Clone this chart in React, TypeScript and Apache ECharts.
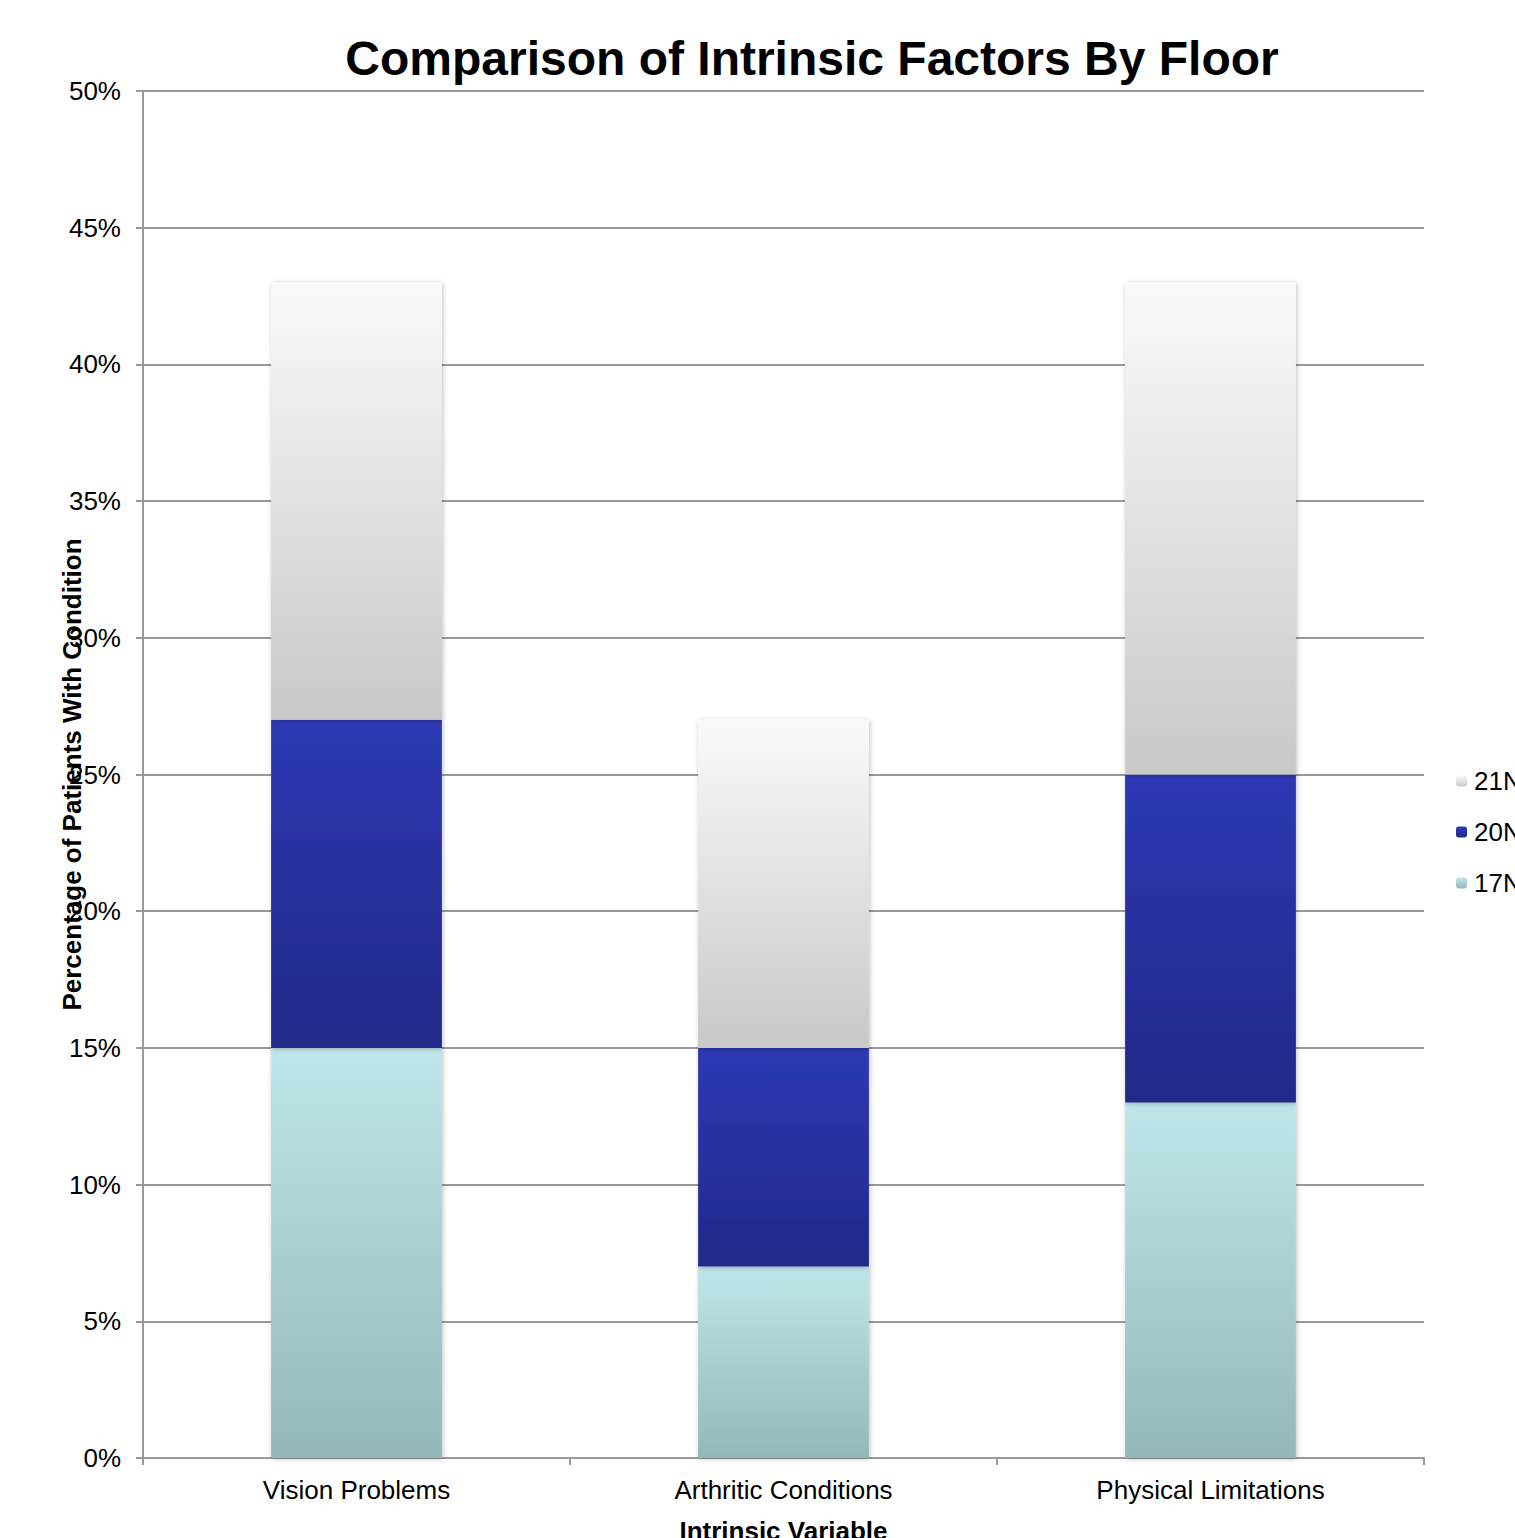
import React, { useEffect, useRef } from "react";
import * as echarts from "echarts";

const categories = ["Vision Problems", "Arthritic Conditions", "Physical Limitations"];
const series17N = [15, 7, 13];
const series20N = [12, 8, 12];
const series21N = [16, 12, 18];
const seriesNames = ["17N", "20N", "21N"];

const grad = (top: string, bottom: string) =>
  new echarts.graphic.LinearGradient(0, 0, 0, 1, [
    { offset: 0, color: top },
    { offset: 1, color: bottom },
  ]);

export default function App() {
  const ref = useRef<HTMLDivElement>(null);
  useEffect(() => {
    document.body.style.margin = "0";
    document.body.style.overflow = "hidden";
    document.documentElement.style.overflow = "hidden";
    if (!ref.current) return;
    const chart = echarts.init(ref.current, undefined, { renderer: "svg" });
    const font = "Liberation Sans, Arial, Helvetica, sans-serif";
    const barStyle = (top: string, bottom: string) => ({
      color: grad(top, bottom),
      shadowBlur: 5,
      shadowColor: "rgba(0,0,0,0.25)",
      shadowOffsetX: 1,
      shadowOffsetY: 1,
    });
    chart.setOption({
      animation: false,
      backgroundColor: "#ffffff",
      textStyle: { fontFamily: font },
      title: {
        text: "Comparison of Intrinsic Factors By Floor",
        left: 807,
        textAlign: "center",
        top: 29,
        textStyle: { fontSize: 48, fontWeight: "bold", color: "#000", fontFamily: font },
      },
      legend: {
        orient: "vertical",
        left: 1451,
        top: 763,
        itemWidth: 11,
        itemHeight: 11,
        itemGap: 25,
        data: ["21N", "20N", "17N"],
        textStyle: { fontSize: 26, color: "#000", fontFamily: font, padding: [0, 0, 0, 2] },
      },
      grid: {
        left: 143,
        right: 91,
        top: 91,
        bottom: 80,
        containLabel: false,
        outerBoundsMode: "none",
      },
      xAxis: {
        type: "category",
        data: categories,
        name: "Intrinsic Variable",
        nameLocation: "middle",
        nameGap: 60,
        nameMoveOverlap: false,
        nameTextStyle: { fontSize: 26, fontWeight: "bold", color: "#000", fontFamily: font },
        axisLine: { lineStyle: { color: "#999", width: 2 } },
        axisTick: { show: true, length: 7, lineStyle: { color: "#999", width: 2 } },
        axisLabel: { fontSize: 26, color: "#000", margin: 19, fontFamily: font },
      },
      yAxis: {
        type: "value",
        min: 0,
        max: 50,
        interval: 5,
        name: "Percentage of Patients With Condition",
        nameLocation: "middle",
        nameGap: 58,
        nameMoveOverlap: false,
        nameTextStyle: { fontSize: 26, fontWeight: "bold", color: "#000", fontFamily: font },
        axisLine: { show: true, lineStyle: { color: "#999", width: 2 } },
        axisTick: { show: true, length: 7, inside: false, lineStyle: { color: "#999", width: 2 } },
        axisLabel: { fontSize: 26, color: "#000", formatter: "{value}%", margin: 22, fontFamily: font },
        splitLine: { lineStyle: { color: "#999", width: 2 } },
      },
      series: [
        {
          name: seriesNames[0],
          type: "bar",
          stack: "total",
          barWidth: "40%",
          data: series17N,
          itemStyle: barStyle("#bee6ea", "#95b7ba"),
        },
        {
          name: seriesNames[1],
          type: "bar",
          stack: "total",
          data: series20N,
          itemStyle: barStyle("#2d39b4", "#212988"),
        },
        {
          name: seriesNames[2],
          type: "bar",
          stack: "total",
          data: series21N,
          itemStyle: barStyle("#fafafa", "#c8c8c8"),
        },
      ],
    });
    return () => chart.dispose();
  }, []);
  return <div ref={ref} style={{ width: 1515, height: 1538 }} />;
}
